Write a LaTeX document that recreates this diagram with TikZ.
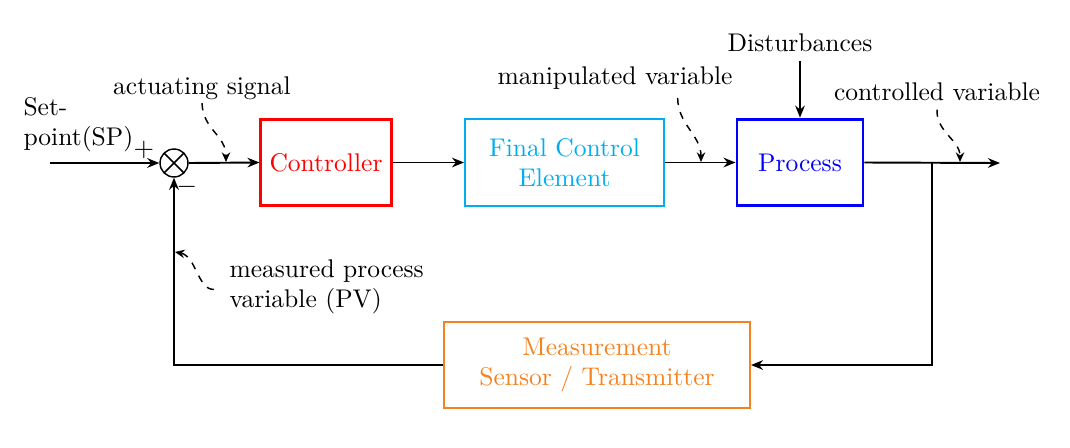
\documentclass[tikz,border=0pt]{standalone}
\usetikzlibrary{arrows.meta}
\definecolor{fcecol}{RGB}{0,174,239}
\definecolor{meascol}{RGB}{245,130,32}
\begin{document}
\begin{tikzpicture}[x=0.415pt,y=-0.415pt,
  every node/.style={font=\fontsize{10.6}{12.6}\selectfont},
  block/.style={draw, rectangle, align=center, inner sep=0pt},
  arr/.style={-{Stealth[length=5pt,width=4pt]}, line width=0.8pt},
  note/.style={dashed, -{Stealth[length=4pt,width=3.5pt]}, line width=0.6pt},
  sumnode/.style={draw, circle, minimum size=11.6pt, inner sep=0pt, line width=0.6pt,
    path picture={\draw[line width=0.6pt] (path picture bounding box.south west) -- (path picture bounding box.north east)
      (path picture bounding box.north west) -- (path picture bounding box.south east);}}]
\useasboundingbox (0,0) rectangle (1070,447);
% blocks
\node[sumnode] (sum) at (174,163) {};
\node[block, draw=red, text=red, line width=1.2pt, minimum width=54pt, minimum height=36pt] (ctrl) at (326,162.5) {Controller};
\node[block, draw=fcecol, text=fcecol, line width=0.8pt, minimum width=82.6pt, minimum height=36pt] (fce) at (564.5,162.5) {Final Control\\Element};
\node[block, draw=blue, text=blue, line width=1.2pt, minimum width=52.3pt, minimum height=36pt] (proc) at (800,162.5) {Process};
\node[block, draw=meascol, text=meascol, line width=0.8pt, minimum width=127pt, minimum height=35.7pt] (meas) at (597,365) {Measurement\\Sensor / Transmitter};
% texts
\node[align=left, anchor=west] (sp) at (15,125) {Set-\\point(SP)};
\node (plus) at (144,150) {$+$};
\node (minus) at (187,187) {$-$};
\node (act) at (202,88) {actuating signal};
\node (mv) at (615,78) {manipulated variable};
\node (cv) at (937,92) {controlled variable};
\node (dist) at (800,43) {Disturbances};
\node[align=left, anchor=west] (pv) at (221,287) {measured process\\variable (PV)};
% coordinates
\coordinate (spin) at (50,163);
\coordinate (out) at (1000,163);
\coordinate (br) at (932,163);
\coordinate (actT) at (226,162);
\coordinate (mvT) at (701,162);
\coordinate (cvT) at (960,162);
\coordinate (pvT) at (175,252);
\coordinate (mvS) at ([xshift=26pt]mv.south);
% connectors
\draw[arr] (spin) -- (sum.west);
\draw[arr] (sum.east) -- (ctrl.west);
\draw[arr] (ctrl.east) -- (fce.west);
\draw[arr] (fce.east) -- (proc.west);
\draw[arr] (proc.east) -- (out);
\draw[arr] (br) |- (meas.east);
\draw[arr] (meas.west) -| (sum.south);
\draw[arr] (dist.south) -- (proc.north);
% annotations
\draw[note] ([yshift=2pt]act.south) .. controls (203,130) and (226,135) .. (actT);
\draw[note] (mvS) .. controls (678,125) and (701,135) .. (mvT);
\draw[note] (cv.south) .. controls (936,132) and (960,140) .. (cvT);
\draw[note] ([xshift=-3pt,yshift=-1pt]pv.west) .. controls (198,290) and (196,256) .. (pvT);
\end{tikzpicture}
\end{document}
